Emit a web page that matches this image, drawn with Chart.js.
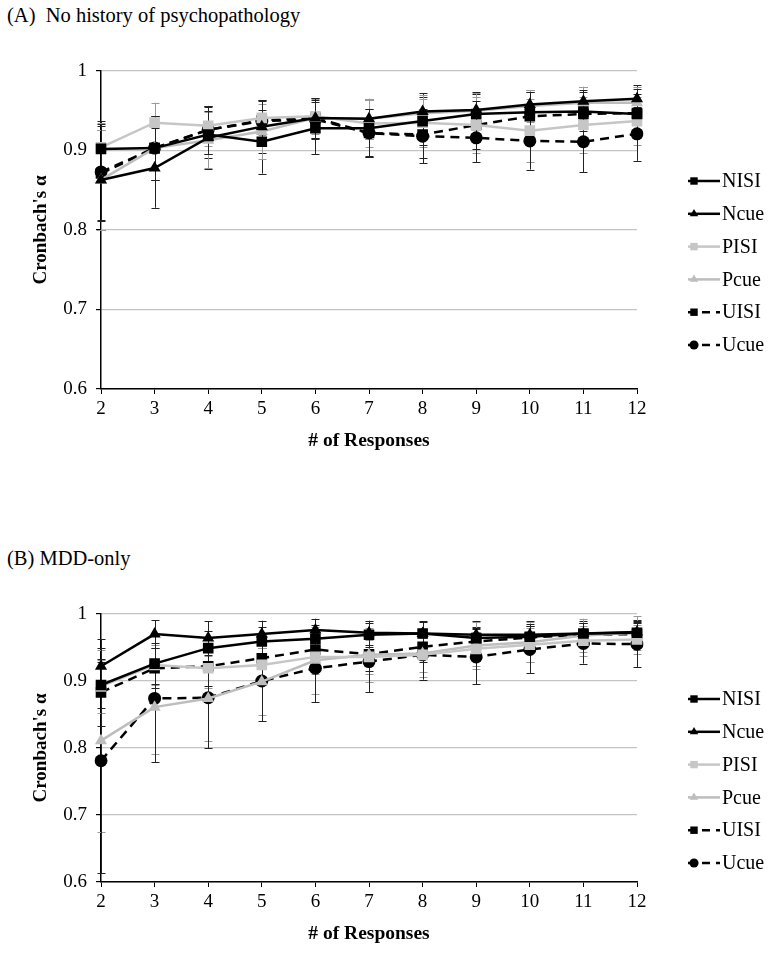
<!DOCTYPE html>
<html>
<head>
<meta charset="utf-8">
<script src="https://cdn.jsdelivr.net/npm/chart.js@4"></script>
<style>
  body { margin: 0; background: #fff; }
  #wrap { position: relative; width: 776px; height: 955px; font-family: "Liberation Serif", "DejaVu Serif", serif; }
  .panelTitle { position: absolute; left: 7px; font-size: 20.5px; color: #000; white-space: pre; }
  .box { position: absolute; left: 0; width: 776px; }
</style>
</head>
<body>
<div id="wrap">
  <div class="panelTitle" style="top:4px">(A)  No history of psychopathology</div>
  <div class="box" style="top:40px;height:420px"><canvas id="chartA" width="776" height="420"></canvas></div>
  <div class="panelTitle" style="top:547px">(B) MDD-only</div>
  <div class="box" style="top:530px;height:425px"><canvas id="chartB" width="776" height="425"></canvas></div>
</div>
<script>
// x categories
const responses = ["2", "3", "4", "5", "6", "7", "8", "9", "10", "11", "12"];
const seriesNames = ["NISI", "Ncue", "PISI", "Pcue", "UISI", "Ucue"];
const yTicks = [0.6, 0.7, 0.8, 0.9, 1];

// (A) No history of psychopathology - Cronbach's alpha
const nisiA = [0.902, 0.903, 0.920, 0.911, 0.928, 0.928, 0.937, 0.946, 0.948, 0.949, 0.946];
const ncueA = [0.863, 0.878, 0.916, 0.930, 0.941, 0.940, 0.949, 0.951, 0.958, 0.962, 0.965];
const pisiA = [0.904, 0.935, 0.931, 0.941, 0.943, 0.934, 0.935, 0.932, 0.925, 0.932, 0.937];
const pcueA = [0.863, 0.903, 0.913, 0.924, 0.941, 0.940, 0.947, 0.950, 0.956, 0.960, 0.960];
const uisiA = [0.871, 0.903, 0.926, 0.938, 0.941, 0.922, 0.920, 0.932, 0.943, 0.946, 0.947];
const ucueA = [0.873, 0.903, 0.926, 0.937, 0.939, 0.922, 0.918, 0.916, 0.912, 0.911, 0.921];
// error bar half-widths
const nisiAErr = [0.035, 0.040, 0.030, 0.040, 0.033, 0.035, 0.030, 0.025, 0.025, 0.025, 0.025];
const ncueAErr = [0.063, 0.050, 0.039, 0.033, 0.025, 0.025, 0.023, 0.022, 0.018, 0.018, 0.017];
const pisiAErr = [0.030, 0.025, 0.025, 0.022, 0.022, 0.030, 0.030, 0.035, 0.040, 0.035, 0.030];
const pcueAErr = [0.063, 0.040, 0.035, 0.035, 0.025, 0.025, 0.023, 0.022, 0.020, 0.020, 0.020];
const uisiAErr = [0.060, 0.040, 0.030, 0.025, 0.025, 0.030, 0.030, 0.030, 0.030, 0.030, 0.030];
const ucueAErr = [0.060, 0.040, 0.030, 0.025, 0.025, 0.030, 0.034, 0.031, 0.036, 0.038, 0.034];

// (B) MDD-only
const nisiB = [0.894, 0.926, 0.949, 0.959, 0.963, 0.969, 0.971, 0.964, 0.966, 0.971, 0.972];
const ncueB = [0.922, 0.970, 0.964, 0.970, 0.976, 0.972, 0.971, 0.969, 0.969, 0.971, 0.973];
const pisiB = [0.892, 0.924, 0.919, 0.924, 0.936, 0.936, 0.939, 0.948, 0.954, 0.960, 0.962];
const pcueB = [0.811, 0.861, 0.874, 0.899, 0.931, 0.939, 0.941, 0.953, 0.958, 0.968, 0.972];
const uisiB = [0.883, 0.919, 0.922, 0.934, 0.947, 0.940, 0.951, 0.959, 0.965, 0.969, 0.970];
const ucueB = [0.781, 0.874, 0.875, 0.900, 0.919, 0.929, 0.939, 0.936, 0.947, 0.956, 0.955];
const nisiBErr = [0.035, 0.030, 0.025, 0.022, 0.020, 0.018, 0.017, 0.017, 0.016, 0.016, 0.015];
const ncueBErr = [0.040, 0.021, 0.025, 0.020, 0.017, 0.018, 0.018, 0.020, 0.020, 0.018, 0.018];
const pisiBErr = [0.040, 0.030, 0.030, 0.030, 0.025, 0.025, 0.025, 0.025, 0.025, 0.022, 0.022];
const pcueBErr = [0.136, 0.070, 0.063, 0.050, 0.050, 0.040, 0.035, 0.035, 0.030, 0.025, 0.025];
const uisiBErr = [0.050, 0.030, 0.030, 0.030, 0.025, 0.025, 0.022, 0.020, 0.020, 0.018, 0.018];
const ucueBErr = [0.168, 0.095, 0.075, 0.060, 0.051, 0.046, 0.037, 0.041, 0.035, 0.030, 0.034];

const FONT = "'Liberation Serif', 'DejaVu Serif', serif";

// line look for each series, same order as seriesNames
const looks = [
  { color: "#000", dash: [], point: "rect", r: 7.5 },
  { color: "#000", dash: [], point: "triangle", r: 7 },
  { color: "#c6c6c6", dash: [], point: "rect", r: 7.5 },
  { color: "#bdbdbd", dash: [], point: "triangle", r: 7 },
  { color: "#000", dash: [9, 6], point: "rect", r: 7.5 },
  { color: "#000", dash: [9, 6], point: "circle", r: 6.5 },
];

function makeDatasets(values, errors) {
  return values.map((vals, i) => ({
    label: seriesNames[i],
    data: vals,
    errors: errors[i],
    borderColor: looks[i].color,
    backgroundColor: looks[i].color,
    borderWidth: 2.5,
    borderDash: looks[i].dash,
    pointStyle: looks[i].point,
    pointRadius: looks[i].r,
    pointBorderWidth: 0,
    pointHoverRadius: looks[i].r,
    fill: false,
    tension: 0,
  }));
}

// error bars with caps, drawn under the lines
const errorBars = {
  id: "errorBars",
  beforeDatasetsDraw(chart) {
    const ctx = chart.ctx;
    const y = chart.scales.y;
    chart.data.datasets.forEach((ds, di) => {
      const meta = chart.getDatasetMeta(di);
      ctx.save();
      ctx.strokeStyle = ds.borderColor === "#000" ? "#222" : "#9a9a9a";
      ctx.lineWidth = 1;
      meta.data.forEach((pt, i) => {
        const top = y.getPixelForValue(ds.data[i] + ds.errors[i]);
        const bot = y.getPixelForValue(ds.data[i] - ds.errors[i]);
        const x = Math.round(pt.x) + 0.5;
        ctx.beginPath();
        ctx.moveTo(x, top); ctx.lineTo(x, bot);
        ctx.moveTo(x - 4, Math.round(top) + 0.5); ctx.lineTo(x + 4, Math.round(top) + 0.5);
        ctx.moveTo(x - 4, Math.round(bot) + 0.5); ctx.lineTo(x + 4, Math.round(bot) + 0.5);
        ctx.stroke();
      });
      ctx.restore();
    });
  }
};

// legend on the right side
const sideLegend = {
  id: "sideLegend",
  afterDraw(chart, args, opts) {
    const ctx = chart.ctx;
    chart.data.datasets.forEach((ds, i) => {
      const yPos = opts.top + i * opts.step;
      ctx.save();
      ctx.strokeStyle = ds.borderColor;
      ctx.lineWidth = 2.5;
      ctx.setLineDash(ds.borderDash.length ? [8, 6] : []);
      ctx.beginPath();
      ctx.moveTo(opts.left, yPos);
      ctx.lineTo(opts.left + 32, yPos);
      ctx.stroke();
      ctx.setLineDash([]);
      ctx.fillStyle = ds.borderColor;
      Chart.helpers.drawPoint(ctx, { pointStyle: ds.pointStyle, radius: ds.pointRadius * 0.7, rotation: 0, borderWidth: 0 }, opts.left + 6, yPos);
      ctx.fillStyle = "#000";
      ctx.font = "20px " + FONT;
      ctx.textBaseline = "middle";
      ctx.fillText(ds.label, opts.left + 34, yPos + 1);
      ctx.restore();
    });
  }
};

function makeChart(id, values, errors, padTop, padBottom, legendTop) {
  return new Chart(document.getElementById(id), {
    type: "line",
    data: { labels: responses, datasets: makeDatasets(values, errors) },
    options: {
      responsive: false,
      animation: false,
      events: [],
      layout: { padding: { left: 26, right: 139, top: padTop, bottom: padBottom } },
      scales: {
        x: {
          offset: false,
          afterFit: (s) => { s.height = 68; },
          border: { color: "#000", width: 1.5 },
          grid: { drawOnChartArea: false, drawTicks: true, tickLength: 5, color: "#000" },
          ticks: { color: "#000", font: { family: FONT, size: 19 }, padding: 4, maxRotation: 0 },
          title: { display: true, text: "# of Responses", color: "#000", font: { family: FONT, size: 19.5, weight: "bold" } },
        },
        y: {
          min: 0.6,
          max: 1,
          afterFit: (s) => { s.width = 75; },
          afterBuildTicks: (s) => { s.ticks = yTicks.map((v) => ({ value: v })); },
          border: { color: "#000", width: 1.5 },
          grid: { color: "#c4c4c4", lineWidth: 1.2, tickLength: 5, tickColor: "#000" },
          ticks: {
            color: "#000",
            font: { family: FONT, size: 19 },
            padding: 9,
            callback: (v) => (v === 1 ? "1" : v.toFixed(1)),
          },
          title: { display: true, text: "Cronbach's α", color: "#000", font: { family: FONT, size: 19, weight: "bold" } },
        },
      },
      plugins: {
        legend: { display: false },
        tooltip: { enabled: false },
        sideLegend: { left: 688, top: legendTop, step: 32.8 },
      },
    },
    plugins: [errorBars, sideLegend],
  });
}

makeChart("chartA",
  [nisiA, ncueA, pisiA, pcueA, uisiA, ucueA],
  [nisiAErr, ncueAErr, pisiAErr, pcueAErr, uisiAErr, ucueAErr],
  31, 3, 141);

makeChart("chartB",
  [nisiB, ncueB, pisiB, pcueB, uisiB, ucueB],
  [nisiBErr, ncueBErr, pisiBErr, pcueBErr, uisiBErr, ucueBErr],
  84, 5, 169);
</script>
</body>
</html>
